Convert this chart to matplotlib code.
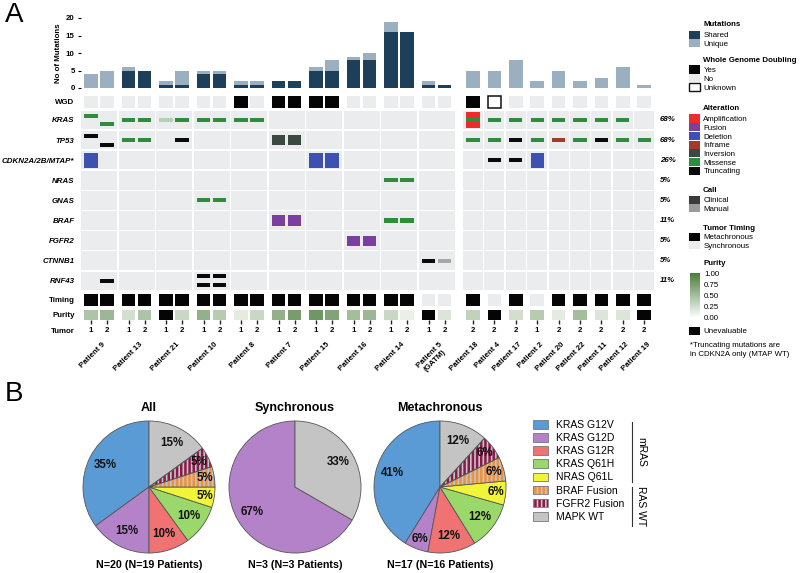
import matplotlib.pyplot as plt
from matplotlib.colors import LinearSegmentedColormap
from matplotlib.lines import Line2D
from matplotlib.patches import Patch, Wedge
from matplotlib.transforms import blended_transform_factory
from matplotlib.cm import ScalarMappable
from matplotlib.colors import Normalize

plt.rcParams["font.family"] = ["Liberation Sans", "DejaVu Sans"]
plt.rcParams["hatch.linewidth"] = 1.8

W, H = 800, 573
FS = 5.7  # small text size of panel A

# ---------------- panel A data ----------------
PATIENTS = ["Patient 9", "Patient 13", "Patient 21", "Patient 10", "Patient 8",
            "Patient 7", "Patient 15", "Patient 16", "Patient 14", "Patient 5\n(GATM)",
            "Patient 18", "Patient 4", "Patient 17", "Patient 2", "Patient 20",
            "Patient 22", "Patient 11", "Patient 12", "Patient 19"]
TUMORS = [[1, 2]] * 10 + [[2], [2], [2], [1], [2], [2], [2], [2], [2]]

SHARED = [0, 0, 5, 5, 1, 1, 4, 4, 1, 1, 2, 2, 5, 5, 8, 8, 16, 16, 1, 1,
          0, 0, 0, 0, 0, 0, 0, 0, 0]
UNIQUE = [4, 5, 1, 0, 1, 4, 1, 1, 1, 1, 0, 0, 1, 3, 1, 2, 3, 0, 1, 0,
          5, 5, 8, 2, 5, 2, 3, 6, 1]
WGD = ["No", "No", "No", "No", "No", "No", "No", "No", "Yes", "No",
       "Yes", "Yes", "Yes", "Yes", "No", "No", "No", "No", "No", "No",
       "Yes", "Unknown", "No", "No", "No", "No", "No", "No", "No"]
TIMING = ["M"] * 18 + ["S", "S"] + ["M", "S", "M", "S", "M", "M", "M", "M", "M"]
PURITY = [0.45, 0.55, 0.25, 0.45, None, 0.3, 0.6, 0.4, 0.15, 0.3,
          0.6, 0.75, 0.8, 0.7, 0.5, 0.55, 0.3, 0.12, None, 0.2,
          0.35, None, 0.25, 0.4, 0.15, 0.5, 0.2, 0.2, None]

GENES = ["KRAS", "TP53", "CDKN2A/2B/MTAP*", "NRAS", "GNAS", "BRAF", "FGFR2",
         "CTNNB1", "RNF43"]
GENE_PCT = ["68%", "68%", "26%", "5%", "5%", "11%", "5%", "5%", "11%"]

# (gene row, column, alteration, slot, manual call)
ALTERATIONS = [
    (0, 0, "Missense", "t", False), (0, 1, "Missense", "b", False),
    (0, 2, "Missense", "c", False), (0, 3, "Missense", "c", False),
    (0, 4, "Missense", "c", True), (0, 5, "Missense", "c", False),
    (0, 6, "Missense", "c", False), (0, 7, "Missense", "c", False),
    (0, 8, "Missense", "c", False), (0, 9, "Missense", "c", False),
    (0, 20, "Amplification", "c", False), (0, 20, "Missense", "c", False),
    (0, 21, "Missense", "c", False), (0, 22, "Missense", "c", False),
    (0, 23, "Missense", "c", False), (0, 24, "Missense", "c", False),
    (0, 25, "Missense", "c", False), (0, 26, "Missense", "c", False),
    (0, 27, "Missense", "c", False),
    (1, 0, "Truncating", "t", False), (1, 1, "Truncating", "b", False),
    (1, 2, "Missense", "c", False), (1, 3, "Missense", "c", False),
    (1, 5, "Truncating", "c", False),
    (1, 10, "Inversion", "c", False), (1, 11, "Inversion", "c", False),
    (1, 20, "Missense", "c", False), (1, 21, "Missense", "c", False),
    (1, 22, "Truncating", "c", False), (1, 23, "Missense", "c", False),
    (1, 24, "Inframe", "c", False), (1, 25, "Missense", "c", False),
    (1, 26, "Truncating", "c", False), (1, 27, "Missense", "c", False),
    (1, 28, "Missense", "c", False),
    (2, 0, "Deletion", "c", False), (2, 12, "Deletion", "c", False),
    (2, 13, "Deletion", "c", False), (2, 21, "Truncating", "c", False),
    (2, 22, "Truncating", "c", False), (2, 23, "Deletion", "c", False),
    (3, 16, "Missense", "c", False), (3, 17, "Missense", "c", False),
    (4, 6, "Missense", "c", False), (4, 7, "Missense", "c", False),
    (5, 10, "Fusion", "c", False), (5, 11, "Fusion", "c", False),
    (5, 16, "Missense", "c", False), (5, 17, "Missense", "c", False),
    (6, 14, "Fusion", "c", False), (6, 15, "Fusion", "c", False),
    (7, 18, "Truncating", "c", False), (7, 19, "Truncating", "c", True),
    (8, 1, "Truncating", "c", False),
    (8, 6, "Truncating", "t", False), (8, 6, "Truncating", "b", False),
    (8, 7, "Truncating", "t", False), (8, 7, "Truncating", "b", False),
]

# ---------------- panel B data ----------------
PIE_CLASSES = ["KRAS G12V", "KRAS G12D", "KRAS G12R", "KRAS Q61H", "NRAS Q61L",
               "BRAF Fusion", "FGFR2 Fusion", "MAPK WT"]
PIE_TITLES = ["All", "Synchronous", "Metachronous"]
PIE_N = ["N=20 (N=19 Patients)", "N=3 (N=3 Patients)", "N=17 (N=16 Patients)"]
COUNTS_ALL = [7, 3, 2, 2, 1, 1, 1, 3]
COUNTS_SYNC = [0, 2, 0, 0, 0, 0, 0, 1]
COUNTS_META = [7, 1, 2, 2, 1, 1, 1, 2]

# ---------------- styles ----------------
SHARED_C, UNIQUE_C = "#1e3f5a", "#9aafbf"
BG = "#ebecee"
KIND_COLOR = {"Amplification": "#ee2a2a", "Fusion": "#7d3f9e", "Deletion": "#3f51b0",
              "Inframe": "#a33b29", "Inversion": "#3a4a40", "Missense": "#2f8c3c",
              "Truncating": "#0a0a0a"}
KIND_H = {"Amplification": 0.75, "Deletion": 0.75, "Fusion": 0.5, "Inversion": 0.5,
          "Missense": 0.2, "Truncating": 0.2, "Inframe": 0.2}
SLOT = {"c": 0.0, "t": -0.22, "b": 0.22}
PURITY_CMAP = LinearSegmentedColormap.from_list("pur", ["#ffffff", "#4a7d3a"])
PIE_COLORS = ["#5b9bd5", "#b482c8", "#f07272", "#9ad86a", "#f0f53a",
              "#c4c4c4", "#c4c4c4", "#c4c4c4"]
PIE_STRIPES = [None, None, None, None, None, "#f0903a", "#8b1a4a", None]

ROW_WGD, ROW_TIMING, ROW_PURITY, ROW_TUMOR = -0.9, 8.95, 9.7, 10.45
LEFT_STEP, RIGHT_START, RIGHT_STEP = 2.344, 23.875, 1.3375


def px_box(x0, y0, x1, y1):
    return [x0 / W, 1 - y1 / H, (x1 - x0) / W, (y1 - y0) / H]


pat_x = [p * LEFT_STEP if p < 10 else RIGHT_START + (p - 10) * RIGHT_STEP
         for p in range(len(PATIENTS))]
col_x = [pat_x[p] + k for p, tums in enumerate(TUMORS) for k in range(len(tums))]
col_t = [t for tums in TUMORS for t in tums]
pat_mid = [pat_x[p] + (len(t) - 1) / 2 for p, t in enumerate(TUMORS)]
block_w = [2.25 if len(t) == 2 else 1.24 for t in TUMORS]

fig = plt.figure(figsize=(8, 5.73), dpi=100)

# ---- mutation count bars ----
axb = fig.add_axes(px_box(81, 18, 660, 88))
axb.bar(col_x, SHARED, width=0.84, color=SHARED_C, linewidth=0)
axb.bar(col_x, UNIQUE, bottom=SHARED, width=0.84, color=UNIQUE_C, linewidth=0)
axb.set_xlim(-0.625, 35.5625)
axb.set_ylim(0, 20)
axb.set_yticks([0, 5, 10, 15, 20])
axb.set_xticks([])
for s in axb.spines.values():
    s.set_visible(False)
axb.tick_params(axis="y", length=2.5, width=0.8, pad=2, labelsize=FS)
for lab in axb.get_yticklabels():
    lab.set_fontweight("bold")
axb.set_ylabel("No of Mutations", fontsize=FS, fontweight="bold", labelpad=3)

# ---- oncoprint ----
ax = fig.add_axes(px_box(78, 92, 660, 338))
ax.set_xlim(-0.8125, 35.5625)
ax.set_ylim(10.846, -1.393)
for r in range(len(GENES)):
    ax.bar(pat_mid, 0.925, bottom=r - 0.4625, width=block_w, color=BG, linewidth=0)

wgd_col = {"Yes": "#050505", "No": BG, "Unknown": "white"}
ax.bar(col_x, 0.58, bottom=ROW_WGD - 0.29, width=0.84,
       color=[wgd_col[w] for w in WGD],
       edgecolor=["#111111" if w == "Unknown" else "none" for w in WGD],
       linewidth=1.1)

for g, c, kind, slot, manual in sorted(ALTERATIONS, key=lambda a: -KIND_H[a[2]]):
    h = KIND_H[kind]
    ax.bar(col_x[c], h, bottom=g + SLOT[slot] - h / 2, width=0.82,
           color=KIND_COLOR[kind], alpha=0.3 if manual else 1.0, linewidth=0)

ax.bar(col_x, 0.6, bottom=ROW_TIMING - 0.3, width=0.86,
       color=["#050505" if t == "M" else BG for t in TIMING], linewidth=0)
ax.bar(col_x, 0.52, bottom=ROW_PURITY - 0.26, width=0.86,
       color=["#050505" if p is None else PURITY_CMAP(p) for p in PURITY], linewidth=0)
ax.plot(col_x, [10.06] * len(col_x), ls="none", marker="|", ms=2.2, mew=1.0, color="#222222")
for x, t in zip(col_x, col_t):
    ax.text(x, ROW_TUMOR, str(t), ha="center", va="center", fontsize=FS, fontweight="bold")
for x, name in zip(pat_mid, PATIENTS):
    ax.text(x + 0.15, 11.0, name, rotation=45, rotation_mode="anchor", ha="right",
            va="top", fontsize=FS, fontweight="bold", clip_on=False,
            multialignment="center")

trans = blended_transform_factory(ax.transAxes, ax.transData)
for r, pct in enumerate(GENE_PCT):
    ax.text(1.0, r, pct, transform=trans, ha="left", va="center", fontsize=FS,
            fontweight="bold", style="italic")

ax.set_yticks([ROW_WGD] + list(range(len(GENES))) + [ROW_TIMING, ROW_PURITY, ROW_TUMOR])
ax.set_yticklabels(["WGD"] + GENES + ["Timing", "Purity", "Tumor"])
ax.set_xticks([])
ax.tick_params(axis="y", length=0, pad=2.5, labelsize=FS)
for i, lab in enumerate(ax.get_yticklabels()):
    lab.set_fontweight("bold")
    if 1 <= i <= len(GENES):
        lab.set_fontstyle("italic")
for s in ax.spines.values():
    s.set_visible(False)


# ---- panel A legend ----
def legend_block(title, title_y, handles, labels, top_y):
    if title:
        fig.text(703 / W, 1 - title_y / H, title, fontsize=FS, fontweight="bold",
                 ha="left", va="center")
    if handles:
        fig.legend(handles, labels, loc="upper left",
                   bbox_to_anchor=(689 / W, 1 - top_y / H), frameon=False,
                   fontsize=FS, handlelength=1.37, handleheight=1.18,
                   labelspacing=0.0, handletextpad=0.45, borderpad=0,
                   borderaxespad=0)


def sw(c, ec="none", lw=0):
    return Patch(facecolor=c, edgecolor=ec, linewidth=lw)


legend_block("Mutations", 24, [sw(SHARED_C), sw(UNIQUE_C)], ["Shared", "Unique"], 30.5)
legend_block("Whole Genome Doubling", 61,
             [sw("#050505"), sw(BG), sw("white", "#111111", 1.0)],
             ["Yes", "No", "Unknown"], 65.5)
kinds = list(KIND_COLOR)
legend_block("Alteration", 109, [sw(KIND_COLOR[k]) for k in kinds], kinds, 114.5)
legend_block("Call", 191, [sw("#3a3a3a"), sw("#9a9a9a")], ["Clinical", "Manual"], 195.5)
legend_block("Tumor Timing", 228, [sw("#050505"), sw(BG)],
             ["Metachronous", "Synchronous"], 232.5)
legend_block("Purity", 263, None, None, 0)
legend_block(None, 0, [sw("#050505")], ["Unevaluable"], 326.5)

cax = fig.add_axes(px_box(690, 273, 700, 318))
cb = fig.colorbar(ScalarMappable(Normalize(0, 1), PURITY_CMAP), cax=cax)
cb.set_ticks([0, 0.25, 0.5, 0.75, 1.0])
cb.set_ticklabels(["0.00", "0.25", "0.50", "0.75", "1.00"])
cb.ax.tick_params(length=0, pad=3, labelsize=FS)
cb.outline.set_visible(False)

fig.text(690 / W, 1 - 342 / H, "*Truncating mutations are\nin CDKN2A only (MTAP WT)",
         fontsize=FS, ha="left", va="top", linespacing=1.5)

# ---- panel B pies ----
centers = [(149, 487), (295, 487), (440, 487)]
for (cx, cy), title, ntext, counts in zip(centers, PIE_TITLES, PIE_N,
                                          [COUNTS_ALL, COUNTS_SYNC, COUNTS_META]):
    pax = fig.add_axes(px_box(cx - 68, cy - 68, cx + 68, cy + 68))
    keep = [i for i, v in enumerate(counts) if v > 0]
    total = sum(counts)
    wedges, _, autotexts = pax.pie(
        [counts[i] for i in keep], colors=[PIE_COLORS[i] for i in keep],
        startangle=90, counterclock=True, autopct="%.0f%%", pctdistance=0.75,
        wedgeprops=dict(edgecolor="#555555", linewidth=0.6),
        textprops=dict(fontsize=8.3, fontweight="bold", color="#111111"))
    for w, i, t in zip(wedges, keep, autotexts):
        if counts[i] / total < 0.08:
            x, y = t.get_position()
            t.set_position((x * 0.85 / 0.75, y * 0.85 / 0.75))
        if PIE_STRIPES[i]:
            w.set_hatch("||||")
            w.set_edgecolor(PIE_STRIPES[i])
            w.set_linewidth(0)
            pax.add_patch(Wedge(w.center, w.r, w.theta1, w.theta2, fill=False,
                                edgecolor="#555555", linewidth=0.6, zorder=2))
    pax.set_xlim(-1.03, 1.03)
    pax.set_ylim(-1.03, 1.03)
    pax.set_title(title, fontsize=9, fontweight="bold", pad=6)
    pax.text(0.5, -0.075, ntext, transform=pax.transAxes, ha="center", va="center",
             fontsize=7.7, fontweight="bold")

pie_handles = []
for c, s in zip(PIE_COLORS, PIE_STRIPES):
    if s:
        pie_handles.append((Patch(facecolor=c, edgecolor=s, hatch="||||", linewidth=0),
                            Patch(fill=False, edgecolor="#777777", linewidth=0.6)))
    else:
        pie_handles.append(Patch(facecolor=c, edgecolor="#777777", linewidth=0.6))
fig.legend(pie_handles, PIE_CLASSES, loc="upper left",
           bbox_to_anchor=(533 / W, 1 - 420 / H), frameon=False, fontsize=7.5,
           handlelength=1.45, handleheight=0.9, labelspacing=0.3,
           handletextpad=0.75, borderpad=0, borderaxespad=0)

fig.add_artist(Line2D([632 / W, 632 / W], [1 - 422 / H, 1 - 482 / H], color="#333333", lw=0.8))
fig.add_artist(Line2D([632 / W, 632 / W], [1 - 487 / H, 1 - 526 / H], color="#333333", lw=0.8))
fig.text(641 / W, 1 - 452 / H, "mRAS", rotation=270, fontsize=7.5, ha="center", va="center")
fig.text(641 / W, 1 - 506 / H, "RAS WT", rotation=270, fontsize=7.5, ha="center", va="center")

fig.text(5 / W, 1 - 15 / H, "A", fontsize=20, ha="left", va="center")
fig.text(5 / W, 1 - 394 / H, "B", fontsize=20, ha="left", va="center")

fig.savefig("out.png", dpi=100)
